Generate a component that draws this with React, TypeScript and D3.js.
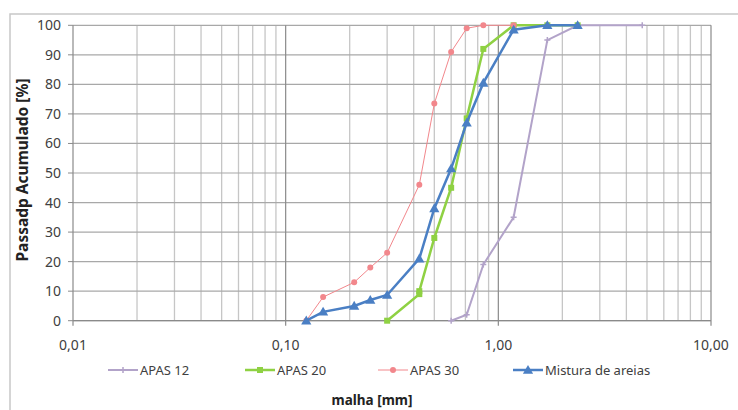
import React from 'react';
import * as d3 from 'd3';

// sieve sizes (mm) and cumulative passing (%)
const apas12X = [0.6, 0.71, 0.85, 1.18, 1.7, 2.36, 4.75];
const apas12Y = [0, 2, 19, 35, 95, 100, 100];
const apas20X = [0.3, 0.425, 0.425, 0.5, 0.6, 0.71, 0.85, 1.18, 1.7, 2.36];
const apas20Y = [0, 9, 10, 28, 45, 68.5, 92, 100, 100, 100];
const apas30X = [0.125, 0.15, 0.21, 0.25, 0.3, 0.425, 0.5, 0.6, 0.71, 0.85, 1.18];
const apas30Y = [0, 8, 13, 18, 23, 46, 73.5, 91, 99, 100, 100];
const misturaX = [0.125, 0.15, 0.21, 0.25, 0.3, 0.425, 0.5, 0.6, 0.71, 0.85, 1.18, 1.7, 2.36];
const misturaY = [0, 3, 5, 7, 8.7, 21, 38, 51.5, 67, 80.5, 98.5, 100, 100];

const xTicks = [0.01, 0.1, 1, 10];
const xTickLabels = ['0,01', '0,10', '1,00', '10,00'];
const yTicks = [0, 10, 20, 30, 40, 50, 60, 70, 80, 90, 100];

const series = [
  { name: 'APAS 12', xs: apas12X, ys: apas12Y, color: '#b2a3c9', width: 2, marker: 'star' },
  { name: 'APAS 20', xs: apas20X, ys: apas20Y, color: '#8fd143', width: 2.5, marker: 'square' },
  { name: 'APAS 30', xs: apas30X, ys: apas30Y, color: '#f2878c', width: 1, marker: 'circle' },
  { name: 'Mistura de areias', xs: misturaX, ys: misturaY, color: '#4a7fc4', width: 2.5, marker: 'triangle' },
];

const legendX = [108, 245, 378, 513];

const font = '"Noto Sans", "Liberation Sans", sans-serif';

const Marker = ({ type, x, y, color }: { type: string; x: number; y: number; color: string }) => {
  if (type === 'square') return <rect x={x - 3} y={y - 3} width={6} height={6} fill={color} />;
  if (type === 'circle') return <circle cx={x} cy={y} r={3} fill={color} />;
  if (type === 'triangle') {
    const s = d3.symbol(d3.symbolTriangle, 45)();
    return <path d={s || ''} transform={`translate(${x},${y + 0.8})`} fill={color} />;
  }
  return (
    <path
      d={`M${x - 3},${y}H${x + 3}M${x},${y - 3}V${y + 3}`}
      stroke={color}
      strokeWidth={1.5}
    />
  );
};

export default function App() {
  const left = 73;
  const right = 711;
  const top = 25.3;
  const bottom = 320.7;

  const x = d3.scaleLog().domain([0.01, 10]).range([left, right]);
  const y = d3.scaleLinear().domain([0, 100]).range([bottom, top]);

  // minor gridlines 2..9 in each decade
  const minor: number[] = [];
  [0.01, 0.1, 1].forEach((d) => {
    for (let k = 2; k <= 9; k++) minor.push(d * k);
  });

  const line = d3
    .line<[number, number]>()
    .x((d) => x(d[0]))
    .y((d) => y(d[1]));

  return (
    <svg
      width={738}
      height={410}
      style={{ position: 'absolute', left: 0, top: 0, background: '#fff' }}
      fontFamily={font}
    >
      <rect x={10} y={14} width={740} height={410} fill="#fff" stroke="#c8c8c8" strokeWidth={1.5} />

      {minor.map((v) => (
        <line key={v} x1={x(v)} x2={x(v)} y1={top} y2={bottom} stroke="#c6c6c6" strokeWidth={1.3} />
      ))}
      {yTicks.map((v) => (
        <line key={v} x1={left} x2={right} y1={y(v)} y2={y(v)} stroke="#a8a8a8" strokeWidth={1.2} />
      ))}
      {xTicks.slice(1).map((v) => (
        <line key={v} x1={x(v)} x2={x(v)} y1={top} y2={bottom + 5} stroke="#8a8a8a" strokeWidth={1.2} />
      ))}

      {/* axes */}
      <line x1={left} x2={left} y1={top} y2={bottom + 5} stroke="#8a8a8a" strokeWidth={1.2} />
      <line x1={left} x2={right} y1={bottom} y2={bottom} stroke="#8a8a8a" strokeWidth={1.2} />
      {yTicks.map((v) => (
        <g key={v}>
          <line x1={left - 5} x2={left} y1={y(v)} y2={y(v)} stroke="#8a8a8a" />
          <text x={left - 12} y={y(v) + 5} textAnchor="end" fontSize={14} fill="#404040">
            {v}
          </text>
        </g>
      ))}
      {xTicks.map((v, i) => (
        <text key={v} x={x(v)} y={350} textAnchor="middle" fontSize={14} fill="#404040">
          {xTickLabels[i]}
        </text>
      ))}

      {/* series */}
      {series.map((s) => {
        const pts = s.xs.map((v, i) => [v, s.ys[i]] as [number, number]);
        return (
          <g key={s.name}>
            <path d={line(pts) || ''} fill="none" stroke={s.color} strokeWidth={s.width} />
            {pts.map((p, i) => (
              <Marker key={i} type={s.marker} x={x(p[0])} y={y(p[1])} color={s.color} />
            ))}
          </g>
        );
      })}

      {/* legend */}
      {series.map((s, i) => (
        <g key={s.name}>
          <line x1={legendX[i]} x2={legendX[i] + 30} y1={370} y2={370} stroke={s.color} strokeWidth={s.width} />
          <Marker type={s.marker} x={legendX[i] + 15} y={370} color={s.color} />
          <text x={legendX[i] + 32} y={375} fontSize={13} fill="#404040">
            {s.name}
          </text>
        </g>
      ))}

      <text x={372} y={405} textAnchor="middle" fontSize={13.5} fontWeight="bold" fill="#222">
        malha [mm]
      </text>
      <text
        transform="translate(28, 170) rotate(-90)"
        textAnchor="middle"
        fontSize={15.5}
        fontWeight="bold"
        fill="#222"
      >
        Passadp Acumulado [%]
      </text>
    </svg>
  );
}
